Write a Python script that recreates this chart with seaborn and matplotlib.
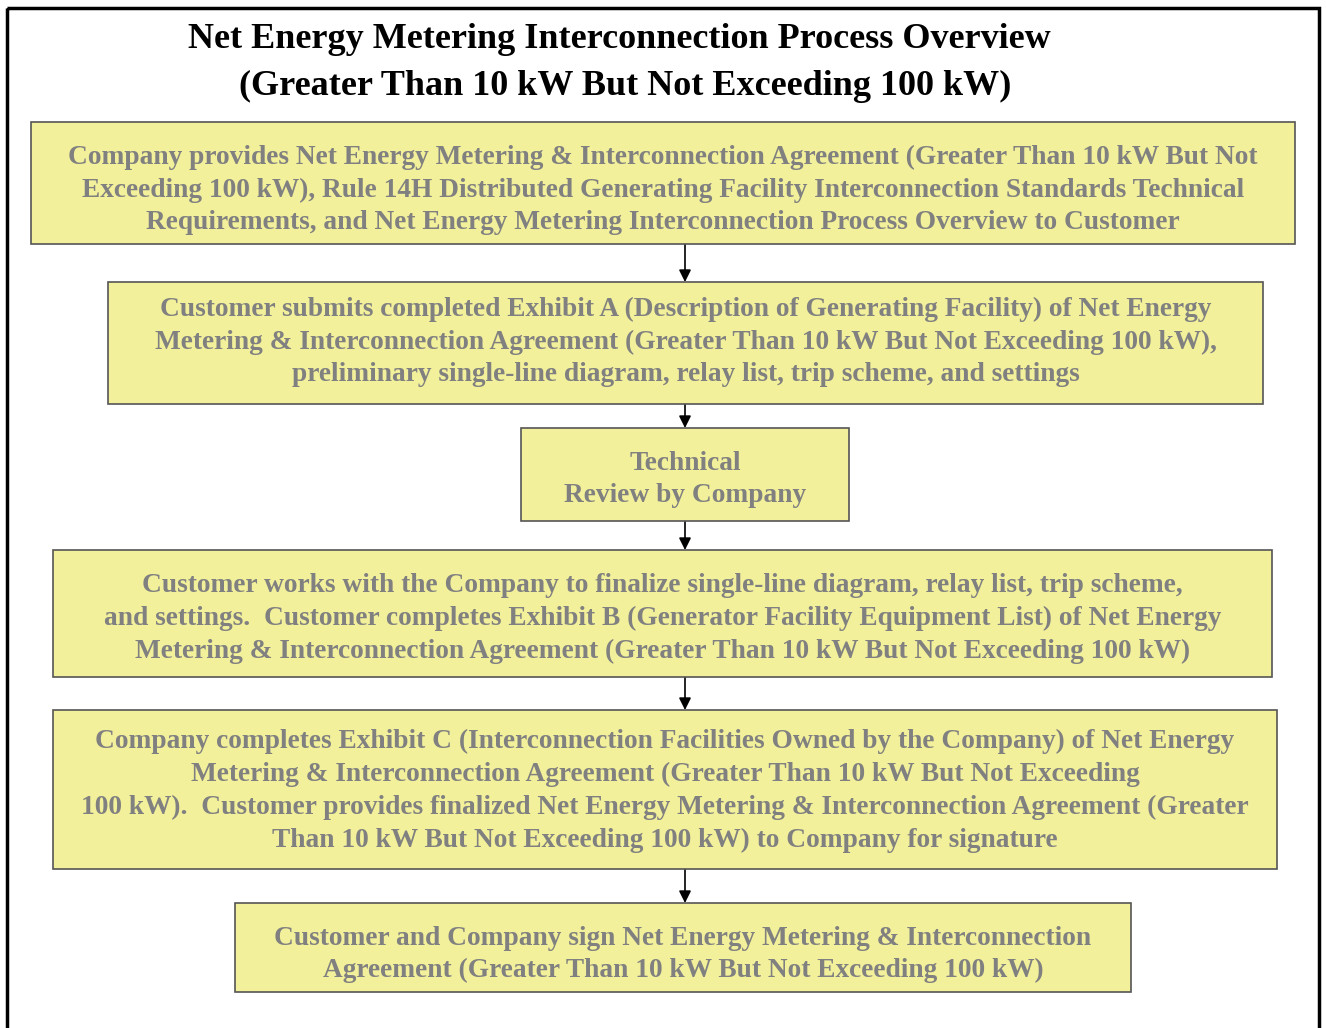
import matplotlib
matplotlib.use("Agg")
import matplotlib.pyplot as plt
import seaborn as sns
from matplotlib.patches import Rectangle

sns.set_style("white")
plt.rcParams["font.family"] = ["Liberation Serif", "DejaVu Serif"]

title_lines = [
    "Net Energy Metering Interconnection Process Overview",
    "(Greater Than 10 kW But Not Exceeding 100 kW)",
]

steps = [
    "Company provides Net Energy Metering & Interconnection Agreement (Greater Than 10 kW But Not\n"
    "Exceeding 100 kW), Rule 14H Distributed Generating Facility Interconnection Standards Technical\n"
    "Requirements, and Net Energy Metering Interconnection Process Overview to Customer",
    "Customer submits completed Exhibit A (Description of Generating Facility) of Net Energy\n"
    "Metering & Interconnection Agreement (Greater Than 10 kW But Not Exceeding 100 kW),\n"
    "preliminary single-line diagram, relay list, trip scheme, and settings",
    "Technical\nReview by Company",
    "Customer works with the Company to finalize single-line diagram, relay list, trip scheme,\n"
    "and settings.  Customer completes Exhibit B (Generator Facility Equipment List) of Net Energy\n"
    "Metering & Interconnection Agreement (Greater Than 10 kW But Not Exceeding 100 kW)",
    "Company completes Exhibit C (Interconnection Facilities Owned by the Company) of Net Energy\n"
    "Metering & Interconnection Agreement (Greater Than 10 kW But Not Exceeding\n"
    "100 kW).  Customer provides finalized Net Energy Metering & Interconnection Agreement (Greater\n"
    "Than 10 kW But Not Exceeding 100 kW) to Company for signature",
    "Customer and Company sign Net Energy Metering & Interconnection\n"
    "Agreement (Greater Than 10 kW But Not Exceeding 100 kW)",
]

# layout in pixels: left, top, right, bottom
box_extents = [
    (31, 122, 1295, 244),
    (108, 282, 1263, 404),
    (521, 428, 849, 521),
    (53, 550, 1272, 677),
    (53, 710, 1277, 869),
    (235, 903, 1131, 992),
]
# small vertical nudges so the text sits like the original
text_nudge = [7, -1, 5, 5, 1.5, 7]

W, H = 1326, 1028
fig = plt.figure(figsize=(W / 100, H / 100), dpi=100)
ax = fig.add_axes([0, 0, 1, 1])
ax.set_xlim(0, W)
ax.set_ylim(H, 0)
ax.axis("off")

# outer frame (bottom edge runs off the page)
ax.add_patch(Rectangle((7, 8), 1312, 1040, fill=False, edgecolor="black", lw=2.5))

ax.text(619, 40, title_lines[0], ha="center", va="center", fontsize=26,
        fontweight="bold", color="black")
ax.text(625, 86, title_lines[1], ha="center", va="center", fontsize=26,
        fontweight="bold", color="black")

arrow_x = 685
for i, (text, (l, t, r, b)) in enumerate(zip(steps, box_extents)):
    ax.add_patch(Rectangle((l, t), r - l, b - t, facecolor="#f3f09b",
                           edgecolor="#555555", lw=1.2, zorder=2))
    ax.text((l + r) / 2, (t + b) / 2 + text_nudge[i], text, ha="center", va="center",
            fontsize=19.7, fontweight="bold", color="#808080",
            linespacing=1.4, zorder=3)
    if i < len(steps) - 1:
        nt = box_extents[i + 1][1]
        ax.annotate("", xy=(arrow_x, nt), xytext=(arrow_x, b),
                    arrowprops=dict(arrowstyle="-|>", color="black", lw=1.2,
                                    mutation_scale=18, shrinkA=0, shrinkB=0),
                    zorder=1)

fig.savefig("out.png", dpi=100)
